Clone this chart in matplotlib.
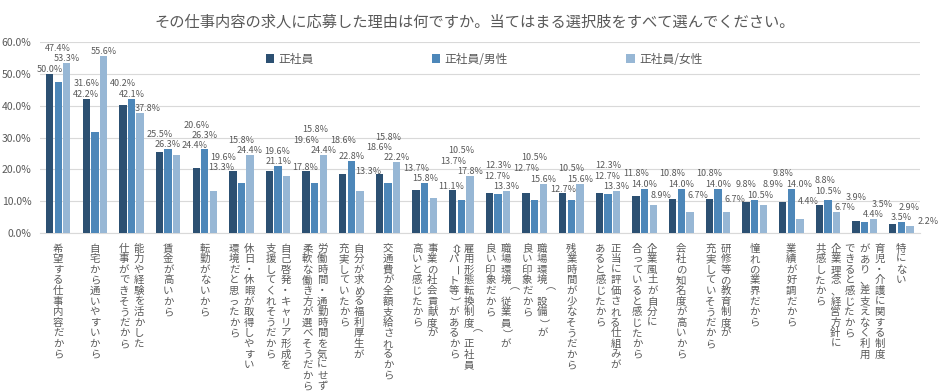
import matplotlib
matplotlib.use('Agg')
import matplotlib.pyplot as plt
import numpy as np

plt.rcParams['font.family'] = ['Noto Sans CJK JP', 'DejaVu Sans']

TITLE = 'その仕事内容の求人に応募した理由は何ですか。当てはまる選択肢をすべて選んでください。'

# 縦書きラベル: 右の列から順に
categories = [
    ['希望する仕事内容だから'],
    ['自宅から通いやすいから'],
    ['能力や経験を活かした', '仕事ができそうだから'],
    ['賃金が高いから'],
    ['転勤がないから'],
    ['休日・休暇が取得しやすい', '環境だと思ったから'],
    ['自己啓発・キャリア形成を', '支援してくれそうだから'],
    ['労働時間・通勤時間を気にせず', '柔軟な働き方が選べそうだから'],
    ['自分が求める福利厚生が', '充実していたから'],
    ['交通費が全額支給されるから'],
    ['事業の社会貢献度が', '高いと感じたから'],
    ['雇用形態転換制度（正社員', '⇔パート等）があるから'],
    ['職場環境（従業員）が', '良い印象だから'],
    ['職場環境（設備）が', '良い印象だから'],
    ['残業時間が少なそうだから'],
    ['正当に評価される仕組みが', 'あると感じたから'],
    ['企業風土が自分に', '合っていると感じたから'],
    ['会社の知名度が高いから'],
    ['研修等の教育制度が', '充実していそうだから'],
    ['憧れの業界だから'],
    ['業績が好調だから'],
    ['企業理念、経営方針に', '共感したから'],
    ['育児・介護に関する制度', 'があり、差支えなく利用', 'できると感じたから'],
    ['特にない'],
]

series_names = ['正社員', '正社員/男性', '正社員/女性']
all_staff = [50.0, 42.2, 40.2, 25.5, 20.6, 19.6, 19.6, 19.6, 18.6, 18.6, 13.7, 13.7,
             12.7, 12.7, 12.7, 12.7, 11.8, 10.8, 10.8, 9.8, 9.8, 8.8, 3.9, 2.9]
male = [47.4, 31.6, 42.1, 26.3, 26.3, 15.8, 21.1, 15.8, 22.8, 15.8, 15.8, 10.5,
        12.3, 10.5, 10.5, 12.3, 14.0, 14.0, 14.0, 10.5, 14.0, 10.5, 3.5, 3.5]
female = [53.3, 55.6, 37.8, 24.4, 13.3, 24.4, 17.8, 24.4, 13.3, 22.2, 11.1, 17.8,
          13.3, 15.6, 15.6, 13.3, 8.9, 6.7, 6.7, 8.9, 4.4, 6.7, 4.4, 2.2]
series = [all_staff, male, female]

colors = ['#2C5072', '#4D87B9', '#97B7D5']
TXT = '#595959'
ROTATE = set('（）ー⇔')

fig = plt.figure(figsize=(9.49, 3.92), dpi=100)
ax = fig.add_axes([0.042, 0.405, 0.927, 0.488])

x = np.arange(len(categories))
w = 0.2
offs = [-0.235, 0, 0.235]
for vals, off, col, name in zip(series, offs, colors, series_names):
    ax.bar(x + off, vals, width=w, color=col, label=name, zorder=3)

ax.set_xlim(-0.5, len(categories) - 0.5)
ax.set_ylim(0, 60)
ax.set_yticks(np.arange(0, 61, 10))
ax.set_yticklabels([f'{t:.1f}%' for t in range(0, 61, 10)], fontsize=7.5, color=TXT)
ax.set_xticks([])
ax.tick_params(axis='y', length=0, pad=6)
ax.grid(axis='y', color='#D9D9D9', linewidth=0.8, zorder=0)
for s in ['top', 'right', 'left']:
    ax.spines[s].set_visible(False)
ax.spines['bottom'].set_color('#D9D9D9')

# データラベル: ピクセル座標で棒や他のラベルとの重なりを避けて配置
LW, LH = 26, 10
placed = []
for s in range(3):
    for i in x:
        (x0, y0), (x1, y1) = ax.transData.transform([(i + offs[s] - w / 2, 0),
                                                     (i + offs[s] + w / 2, series[s][i])])
        placed.append((x0 + 2, y0, x1 - 2, y1 - 1))


def hits(b):
    return any(b[0] < p[2] and p[0] < b[2] and b[1] < p[3] and p[1] < b[3] for p in placed)


cands = sorted([(dx, dy) for dx in range(-18, 19, 2) for dy in range(-4, 50)],
               key=lambda p: abs(p[0]) * 0.8 + abs(p[1]))
for i in x:
    group = [(s, series[s][i]) for s in range(3)]
    for s, v in sorted(group, key=lambda g: -g[1]):
        X, Y = ax.transData.transform((i + offs[s], v))
        for dx, dy in cands:
            box = (X + dx - LW / 2, Y + dy + 1, X + dx + LW / 2, Y + dy + 1 + LH)
            if not hits(box):
                break
        placed.append(box)
        ax.annotate(f'{v:.1f}%', (i + offs[s], v), xytext=(dx, dy), textcoords='offset pixels',
                    ha='center', va='bottom', fontsize=6.5, color=TXT, zorder=4)

# 縦書きのカテゴリラベル
col_gap = 15
char_h = 10.6
for xi, cols in zip(x, categories):
    n = len(cols)
    for k, line in enumerate(cols):
        dx = (n - 1) / 2 * col_gap - k * col_gap
        for j, ch in enumerate(line):
            ax.annotate(ch, (xi, 0), xycoords=('data', 'axes fraction'),
                        xytext=(dx, -10 - j * char_h - char_h / 2), textcoords='offset pixels',
                        ha='center', va='center', fontsize=7.5, color=TXT,
                        rotation=-90 if ch in ROTATE else 0, annotation_clip=False)

fig.text(0.5, 0.944, TITLE, ha='center', va='center', fontsize=11, color=TXT)

ax.legend(loc='upper center', bbox_to_anchor=(0.505, 1.0), ncol=3, frameon=False,
          fontsize=8.5, labelcolor=TXT, handlelength=0.7, handleheight=0.7,
          handletextpad=0.4, columnspacing=10)

fig.savefig('out.png', dpi=100)
